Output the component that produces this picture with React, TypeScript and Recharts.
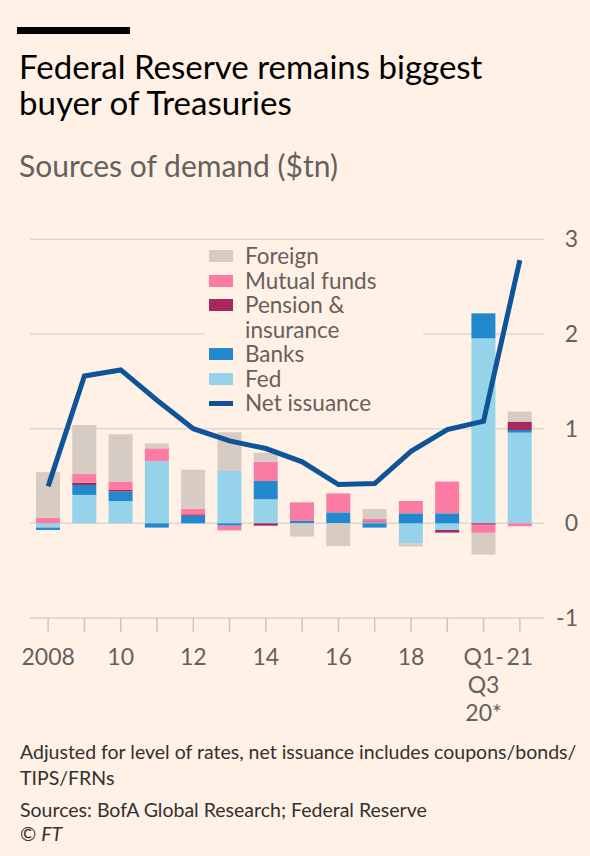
import React from 'react';
import { ComposedChart, Bar, Line, XAxis, YAxis, CartesianGrid, Legend } from 'recharts';

const categories = ['2008', '2009', '2010', '2011', '2012', '2013', '2014', '2015', '2016', '2017', '2018', '2019', 'Q1-Q3 20*', '2021'];
const tickLabels: string[][] = [['2008'], [], ['10'], [], ['12'], [], ['14'], [], ['16'], [], ['18'], [], ['Q1-', 'Q3', '20*'], ['21']];
const fed = [-0.045, 0.3, 0.236, 0.658, 0, 0.553, 0.254, 0, 0, 0.011, -0.21, -0.07, 1.954, 0.958];
const banks = [-0.025, 0.105, 0.1, -0.045, 0.08, -0.025, 0.193, 0.025, 0.116, -0.045, 0.106, 0.106, 0.264, 0.028];
const pension = [0, 0.025, 0.017, 0, 0.015, 0, -0.025, 0, 0, 0.01, 0, -0.028, -0.015, 0.088];
const mutualFunds = [0.06, 0.09, 0.088, 0.134, 0.06, -0.05, 0.204, 0.197, 0.2, 0.025, 0.13, 0.335, -0.085, -0.03];
const foreign = [0.48, 0.518, 0.5, 0.053, 0.412, 0.408, 0.095, -0.14, -0.24, 0.105, -0.035, 0, -0.23, 0.106];
const netIssuance = [0.39, 1.556, 1.62, 1.3, 1.0, 0.87, 0.79, 0.65, 0.41, 0.42, 0.76, 0.99, 1.08, 2.78];
const yTicks = [-1, 0, 1, 2, 3];

const data = categories.map((cat, i) => ({
  cat,
  fed: fed[i],
  banks: banks[i],
  pension: pension[i],
  mutual: mutualFunds[i],
  foreign: foreign[i],
  net: netIssuance[i],
}));

const FONT = 'Lato, "Open Sans", sans-serif';
const BG = '#fff1e5';
const C = {
  foreign: '#d6ccc4',
  mutual: '#fb7ba3',
  pension: '#a8285c',
  banks: '#2389cf',
  fed: '#94d3e9',
  net: '#0f5499',
  grid: '#e2d7cc',
  text: '#66605c',
};

const legendItems = [
  { label: ['Foreign'], color: C.foreign, type: 'rect' },
  { label: ['Mutual funds'], color: C.mutual, type: 'rect' },
  { label: ['Pension &', 'insurance'], color: C.pension, type: 'rect' },
  { label: ['Banks'], color: C.banks, type: 'rect' },
  { label: ['Fed'], color: C.fed, type: 'rect' },
  { label: ['Net issuance'], color: C.net, type: 'line' },
];

const renderLegend = () => (
  <div style={{ background: BG, fontFamily: FONT, fontSize: 22.5, color: C.text, lineHeight: '24.5px' }}>
    {legendItems.map((it) => (
      <div key={it.label[0]} style={{ position: 'relative', paddingLeft: 40 }}>
        <div
          style={{
            position: 'absolute',
            left: 4,
            top: it.type === 'rect' ? 6 : 10,
            width: 24,
            height: it.type === 'rect' ? 12 : 5,
            background: it.color,
          }}
        />
        {it.label.map((l) => (
          <div key={l}>{l}</div>
        ))}
      </div>
    ))}
  </div>
);

const XTick = (props: any) => {
  const { x, y, index } = props;
  const lines = tickLabels[index] || [];
  return (
    <g>
      {lines.map((l, k) => (
        <text key={k} x={x} y={y + 31 + k * 28} textAnchor="middle" fill={C.text} fontSize={23} fontFamily={FONT}>
          {l}
        </text>
      ))}
    </g>
  );
};

const YTick = (props: any) => {
  const { y, payload } = props;
  return (
    <text x={578} y={y + 8} textAnchor="end" fill={C.text} fontSize={23} fontFamily={FONT}>
      {payload.value}
    </text>
  );
};

export default function App() {
  return (
    <div style={{ position: 'absolute', left: 0, top: 0, width: 590, height: 856, background: BG, overflow: 'hidden', fontFamily: FONT }}>
      <div style={{ position: 'absolute', left: 17, top: 27, width: 113, height: 7, background: '#000' }} />
      <div style={{ position: 'absolute', left: 19, top: 48, fontSize: 33, lineHeight: '36px', color: '#000' }}>
        Federal Reserve remains biggest
        <br />
        buyer of Treasuries
      </div>
      <div style={{ position: 'absolute', left: 19, top: 147, fontSize: 30, lineHeight: '36px', color: C.text }}>
        Sources of demand ($tn)
      </div>
      <div style={{ position: 'absolute', left: 0, top: 200 }}>
        <ComposedChart
          width={590}
          height={540}
          data={data}
          stackOffset="sign"
          margin={{ top: 39.3, right: 6, left: 30, bottom: 22 }}
          style={{ fontFamily: FONT }}
        >
          <CartesianGrid horizontal vertical={false} stroke={C.grid} strokeWidth={1.5} />
          <XAxis
            dataKey="cat"
            interval={0}
            tickSize={14}
            height={100}
            padding={{ left: 0, right: 6 }}
            axisLine={{ stroke: C.grid, strokeWidth: 1.5 }}
            tickLine={{ stroke: '#cfc5bc', strokeWidth: 1.5 }}
            tick={<XTick />}
          />
          <YAxis
            orientation="right"
            width={40}
            domain={[-1, 3]}
            ticks={yTicks}
            axisLine={false}
            tickLine={false}
            tick={<YTick />}
          />
          <Legend
            layout="horizontal"
            verticalAlign="middle"
            align="center"
            content={renderLegend}
            wrapperStyle={{ position: 'absolute', left: 205, top: 44, width: 218, height: 174, background: BG }}
          />
          <Bar dataKey="fed" stackId="a" fill={C.fed} barSize={24} isAnimationActive={false} />
          <Bar dataKey="banks" stackId="a" fill={C.banks} barSize={24} isAnimationActive={false} />
          <Bar dataKey="pension" stackId="a" fill={C.pension} barSize={24} isAnimationActive={false} />
          <Bar dataKey="mutual" stackId="a" fill={C.mutual} barSize={24} isAnimationActive={false} />
          <Bar dataKey="foreign" stackId="a" fill={C.foreign} barSize={24} isAnimationActive={false} />
          <Line dataKey="net" type="linear" stroke={C.net} strokeWidth={5} dot={false} isAnimationActive={false} />
        </ComposedChart>
      </div>
      <div style={{ position: 'absolute', left: 20, top: 739, fontSize: 19.5, lineHeight: '26px', color: '#33302e', whiteSpace: 'nowrap' }}>
        Adjusted for level of rates, net issuance includes coupons/bonds/
        <br />
        TIPS/FRNs
      </div>
      <div style={{ position: 'absolute', left: 20, top: 798, fontSize: 19.5, lineHeight: '24px', color: '#33302e', whiteSpace: 'nowrap' }}>
        Sources: BofA Global Research; Federal Reserve
        <br />© <i>FT</i>
      </div>
    </div>
  );
}
